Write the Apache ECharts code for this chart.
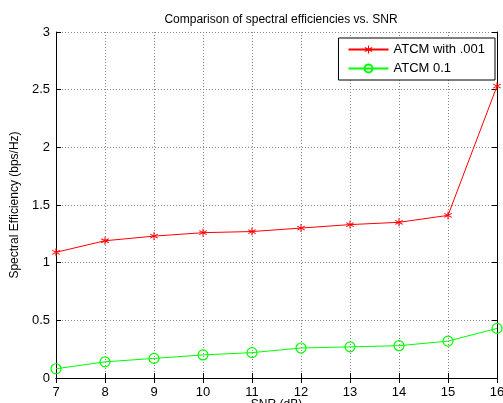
<!DOCTYPE html>
<html>
<head>
<meta charset="utf-8">
<script src="https://cdn.jsdelivr.net/npm/echarts@6/dist/echarts.min.js"></script>
<style>html,body{margin:0;padding:0;background:#fff}#main{width:503px;height:403px}</style>
</head>
<body>
<div id="main"></div>
<script>
var snr = [7, 8, 9, 10, 11, 12, 13, 14, 15, 16];
var atcm001 = [1.09, 1.19, 1.23, 1.26, 1.27, 1.30, 1.33, 1.35, 1.41, 2.53];
var atcm01 = [0.08, 0.14, 0.17, 0.20, 0.22, 0.26, 0.27, 0.28, 0.32, 0.43];

var font = 'Liberation Sans, Arial, sans-serif';
var star = 'path://M-0.12,-1L0.12,-1L0.12,1L-0.12,1Z M-0.93,-0.4L-0.81,-0.6L0.93,0.4L0.81,0.6Z M-0.93,0.4L-0.81,0.6L0.93,-0.4L0.81,-0.6Z';

var myChart = echarts.init(document.getElementById('main'));

var gridLine = { show: true, lineStyle: { color: '#888', type: [1, 2], width: 1 } };

option = {
    backgroundColor: '#fff',
    animation: false,
    title: {
        text: 'Comparison of spectral efficiencies vs. SNR',
        left: 276,
        textAlign: 'center',
        top: 9,
        textStyle: { fontFamily: font, fontSize: 12, fontWeight: 'normal', color: '#000' }
    },
    legend: {
        orient: 'vertical',
        right: 8,
        top: 38,
        itemWidth: 40,
        itemHeight: 10,
        itemGap: 6,
        padding: [5, 10, 5, 9],
        borderColor: '#000',
        borderWidth: 1,
        backgroundColor: '#fff',
        textStyle: { fontFamily: font, fontSize: 13, color: '#000' },
        data: ['ATCM with .001', 'ATCM 0.1']
    },
    grid: { left: 56, right: 6, top: 32, bottom: 25, outerBoundsMode: 'none', containLabel: false },
    xAxis: [{
        type: 'value',
        min: 7, max: 16, interval: 1,
        name: 'SNR (dB)',
        nameLocation: 'middle',
        nameGap: 21,
        nameMoveOverlap: false,
        nameTextStyle: { fontFamily: font, fontSize: 12, color: '#000' },
        axisLine: { lineStyle: { color: '#000', width: 1 } },
        axisTick: { inside: true, length: 5, lineStyle: { color: '#000' } },
        axisLabel: { fontFamily: font, fontSize: 13, color: '#000', margin: 8 },
        splitLine: gridLine
    }, {
        type: 'value', position: 'top',
        min: 7, max: 16, interval: 1,
        axisLine: { show: true, lineStyle: { color: '#000' } },
        axisTick: { inside: true, length: 5, lineStyle: { color: '#000' } },
        axisLabel: { show: false },
        splitLine: { show: false }
    }],
    yAxis: [{
        type: 'value',
        min: 0, max: 3, interval: 0.5,
        name: 'Spectral Efficiency (bps/Hz)',
        nameLocation: 'middle',
        nameGap: 31,
        nameTextStyle: { fontFamily: font, fontSize: 12, color: '#000' },
        axisLine: { show: true, lineStyle: { color: '#000', width: 1 } },
        axisTick: { show: true, inside: true, length: 5, lineStyle: { color: '#000' } },
        axisLabel: { fontFamily: font, fontSize: 13, color: '#000', margin: 6 },
        splitLine: gridLine
    }, {
        type: 'value', position: 'right',
        min: 0, max: 3, interval: 0.5,
        axisLine: { show: true, lineStyle: { color: '#000' } },
        axisTick: { show: true, inside: true, length: 5, lineStyle: { color: '#000' } },
        axisLabel: { show: false },
        splitLine: { show: false }
    }],
    series: [{
        name: 'ATCM with .001',
        type: 'line',
        data: snr.map(function (x, i) { return [x, atcm001[i]]; }),
        symbol: star,
        symbolSize: 8,
        itemStyle: { color: '#ff0000' },
        lineStyle: { color: '#ff0000', width: 1 },
        z: 3
    }, {
        name: 'ATCM 0.1',
        type: 'line',
        data: snr.map(function (x, i) { return [x, atcm01[i]]; }),
        symbol: 'circle',
        symbolSize: 10,
        itemStyle: { color: 'rgba(0,0,0,0)', borderColor: '#00ff00', borderWidth: 1.2 },
        lineStyle: { color: '#00ff00', width: 1 },
        z: 3
    }]
};

myChart.setOption(option);
</script>
</body>
</html>
